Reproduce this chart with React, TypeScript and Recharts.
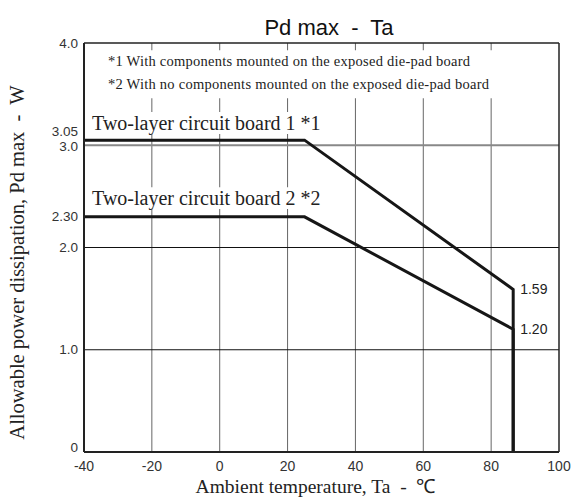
import {
  CartesianGrid,
  Line,
  LineChart,
  ReferenceArea,
  ReferenceLine,
  XAxis,
  YAxis,
} from "recharts";

// Pd max - Ta derating curves.
const board1Temp = [-40, 25, 86.5, 86.5];
const board1Pd = [3.05, 3.05, 1.59, 0];
const board2Temp = [-40, 25, 86.5, 86.5];
const board2Pd = [2.3, 2.3, 1.2, 0];

const xTicks = [-40, -20, 0, 20, 40, 60, 80, 100];
const yTicks = [0, 1, 2, 2.3, 3, 3.05, 4];
const gridTemps = [-20, 0, 20, 40, 60, 80];
const gridPds = [1, 2, 3];

const noteLines = [
  "*1  With components mounted on the exposed die-pad board",
  "*2  With no components mounted on the exposed die-pad board",
];
const board1Name = "Two-layer circuit board 1 *1";
const board2Name = "Two-layer circuit board 2 *2";

const SANS = "'Liberation Sans', Arial, sans-serif";
const SERIF = "'Liberation Serif', 'Times New Roman', serif";

const rows1 = board1Temp.map((t, i) => ({ temp: t, pd: board1Pd[i] }));
const rows2 = board2Temp.map((t, i) => ({ temp: t, pd: board2Pd[i] }));

// small nudges so stacked labels (3.0 / 3.05) don't collide, like the original
const yNudge: Record<string, number> = { "0": -5, "3": 1, "3.05": -9 };

function yLabel(v: number): string {
  if (v === 0) return "0";
  if (v === 2.3 || v === 3.05) return v.toFixed(2);
  return v.toFixed(1);
}

function YTick({ x, y, payload }: any) {
  const v = payload.value as number;
  return (
    <text
      x={x}
      y={y + (yNudge[String(v)] ?? 0)}
      textAnchor="end"
      dominantBaseline="central"
      fontFamily={SANS}
      fontSize={13.5}
      fill="#333"
    >
      {yLabel(v)}
    </text>
  );
}

function XTick({ x, y, payload }: any) {
  return (
    <text
      x={x}
      y={y}
      textAnchor="middle"
      dominantBaseline="central"
      fontFamily={SANS}
      fontSize={14}
      fill="#333"
    >
      {payload.value}
    </text>
  );
}

// white box with text on top, so the grid breaks behind annotations
function boxText(
  lines: string[],
  fontSize: number,
  dx: number,
  dy: number,
  gap: number,
  spacing = 0,
) {
  return ({ viewBox }: any) => (
    <text fontFamily={SERIF} fontSize={fontSize} fill="#222" letterSpacing={spacing}>
      {lines.map((l, i) => (
        <tspan key={i} x={viewBox.x + dx} y={viewBox.y + dy + i * gap}>
          {l}
        </tspan>
      ))}
    </text>
  );
}

function endValue({ x, y, index, value }: any) {
  if (index !== 2) return null;
  return (
    <text
      x={x + 7}
      y={y}
      dominantBaseline="central"
      fontFamily={SANS}
      fontSize={14}
      fill="#222"
    >
      {Number(value).toFixed(2)}
    </text>
  );
}

export default function App() {
  return (
    <div
      style={{
        position: "absolute",
        left: 0,
        top: 0,
        width: 571,
        height: 500,
        background: "#fff",
      }}
    >
      <div
        style={{
          position: "absolute",
          left: 0,
          width: 658,
          top: 15,
          textAlign: "center",
          fontFamily: SANS,
          fontSize: 22,
          color: "#111",
          whiteSpace: "pre",
          lineHeight: "26px",
        }}
      >
        {"Pd max  -  Ta"}
      </div>
      <LineChart
        width={571}
        height={500}
        margin={{ top: 43, right: 12, bottom: 28, left: 34 }}
      >
        <CartesianGrid
          horizontal={false}
          verticalValues={gridTemps}
          stroke="#666"
          strokeWidth={1}
        />
        {gridPds.map((p) => (
          <ReferenceLine
            key={p}
            y={p}
            stroke={p === 3 ? "#888" : "#111"}
            strokeWidth={p === 3 ? 2 : 1}
          />
        ))}
        <ReferenceLine y={4} stroke="#222" strokeWidth={1.5} />
        <ReferenceLine x={100} stroke="#222" strokeWidth={1.5} />
        <XAxis
          type="number"
          dataKey="temp"
          domain={[-40, 100]}
          ticks={xTicks}
          interval={0}
          allowDuplicatedCategory={false}
          height={20}
          tickSize={0}
          tickMargin={14}
          tick={<XTick />}
          axisLine={{ stroke: "#222", strokeWidth: 2 }}
          label={{
            content: ({ viewBox }: any) => (
              <text
                x={viewBox.x + viewBox.width / 2 - 6}
                y={493}
                textAnchor="middle"
                fontFamily={SERIF}
                fontSize={19.5}
                fill="#222"
                style={{ whiteSpace: "pre" }}
              >
                {"Ambient temperature, Ta  -  ℃"}
              </text>
            ),
          }}
        />
        <YAxis
          type="number"
          domain={[0, 4]}
          ticks={yTicks}
          interval={0}
          width={50}
          tickSize={0}
          tickMargin={6}
          tick={<YTick />}
          axisLine={{ stroke: "#222", strokeWidth: 2 }}
          label={{
            content: ({ viewBox }: any) => {
              const cy = viewBox.y + viewBox.height / 2 + 15;
              return (
                <text
                  x={17}
                  y={cy}
                  transform={`rotate(-90, 17, ${cy})`}
                  textAnchor="middle"
                  dominantBaseline="central"
                  fontFamily={SERIF}
                  fontSize={20.5}
                  fill="#222"
                  style={{ whiteSpace: "pre" }}
                >
                  {"Allowable power dissipation, Pd max  -  W"}
                </text>
              );
            },
          }}
        />
        <ReferenceArea
          x1={-35.3}
          x2={82.6}
          y1={3.46}
          y2={3.93}
          fill="#fff"
          fillOpacity={1}
          stroke="none"
          label={{ content: boxText(noteLines, 14.5, 8, 16, 23, 0.25) }}
        />
        <ReferenceArea
          x1={-38.2}
          x2={34.3}
          y1={3.11}
          y2={3.325}
          fill="#fff"
          fillOpacity={1}
          stroke="none"
          label={{ content: boxText([board1Name], 20, 2, 18, 0) }}
        />
        <ReferenceArea
          x1={-38.2}
          x2={34.3}
          y1={2.376}
          y2={2.59}
          fill="#fff"
          fillOpacity={1}
          stroke="none"
          label={{ content: boxText([board2Name], 20, 2, 18, 0) }}
        />
        <Line
          data={rows1}
          dataKey="pd"
          type="linear"
          stroke="#161616"
          strokeWidth={3}
          dot={false}
          label={endValue}
          isAnimationActive={false}
        />
        <Line
          data={rows2}
          dataKey="pd"
          type="linear"
          stroke="#161616"
          strokeWidth={3}
          dot={false}
          label={endValue}
          isAnimationActive={false}
        />
      </LineChart>
    </div>
  );
}
